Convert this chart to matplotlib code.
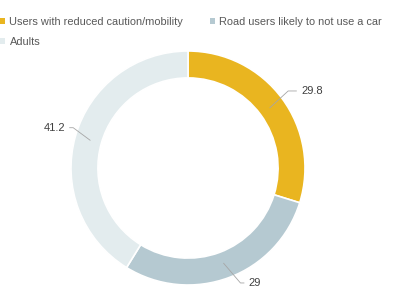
import numpy as np
import matplotlib
matplotlib.use("Agg")
import matplotlib.pyplot as plt
from matplotlib.patches import Patch

# Data
categories = ["Users with reduced caution/mobility", "Road users likely to not use a car", "Adults"]
values = [29.8, 29, 41.2]
labels = ["29.8", "29", "41.2"]
colors = ["#E9B520", "#B5C9D1", "#E3ECEE"]

plt.rcParams['font.family'] = ['Liberation Sans', 'DejaVu Sans']

fig = plt.figure(figsize=(3.97, 3.04), dpi=100)
W, H = 397, 304
cx, cy, r = 188, 168, 117
ax = fig.add_axes([(cx - r) / W, (H - cy - r) / H, 2 * r / W, 2 * r / H])

wedges, _ = ax.pie(values, colors=colors, startangle=90, counterclock=False,
                   radius=1.0, wedgeprops=dict(width=0.23, edgecolor="white", linewidth=1.2))
ax.set_xlim(-1, 1)
ax.set_ylim(-1, 1)
ax.set_aspect("equal")
ax.axis("off")

# leader lines + labels (elbow radius, angle shift, horizontal tail)
leader = [(1.08, 1.2, 0.07), (1.08, 4.0, 0.03), (1.04, -3.5, 0.03)]
for w, lab, (er, dang, tail) in zip(wedges, labels, leader):
    mid = (w.theta1 + w.theta2) / 2
    a0 = np.deg2rad(mid)
    a1 = np.deg2rad(mid + dang)
    x0, y0 = 0.87 * np.cos(a0), 0.87 * np.sin(a0)
    x1, y1 = er * np.cos(a1), er * np.sin(a1)
    side = 1 if np.cos(a0) >= 0 else -1
    x2 = x1 + side * tail
    ax.plot([x0, x1, x2], [y0, y1, y1], color="#A6A6A6", lw=0.6, clip_on=False)
    ax.text(x2 + side * 0.04, y1, lab, ha="left" if side > 0 else "right", va="center",
            fontsize=8, color="#404040", clip_on=False)

# legend fills row by row: reorder for column-major layout
order = [0, 2, 1]
handles = [Patch(facecolor=colors[i], edgecolor="none") for i in order]
fig.legend(handles, [categories[i] for i in order], loc="upper left",
           bbox_to_anchor=(-0.012, 0.96), ncol=2, frameon=False, fontsize=7.9,
           labelcolor="#595959", handlelength=0.5, handleheight=0.5,
           handletextpad=0.4, columnspacing=2.4, borderaxespad=0, labelspacing=0.95)

fig.savefig("out.png", dpi=100)
